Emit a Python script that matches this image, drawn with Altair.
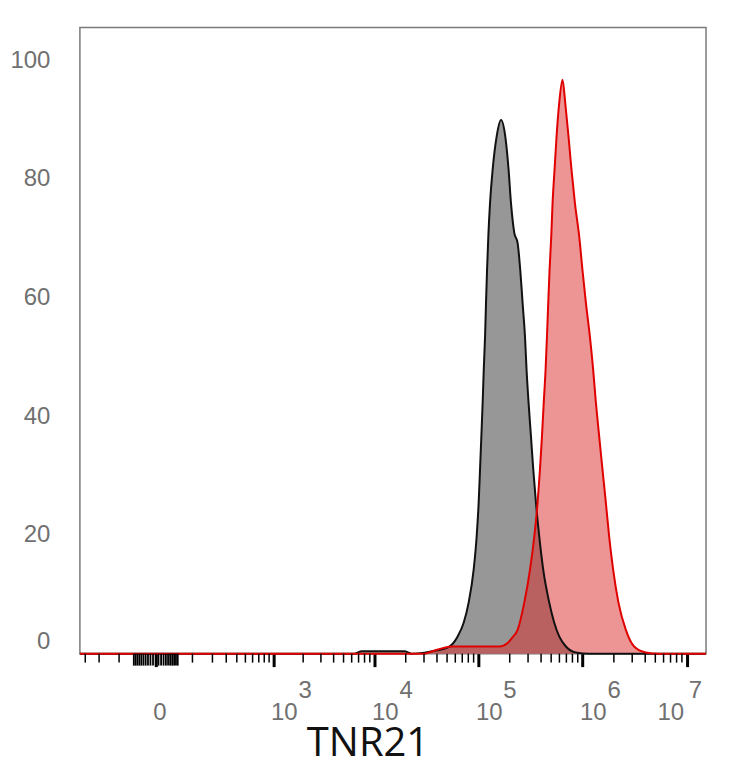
import altair as alt
import pandas as pd

# TNR21 fluorescence intensity and % of max
iso_x = [-348, 6400, 7500, 19400, 22700, 30300, 36100, 52600, 63200, 72200,
         80600, 90000, 96200, 100600, 103700, 106800, 109900, 112600, 115900,
         118400, 121100, 124600, 129400, 137000, 149700, 165000, 181400,
         195100, 205700, 221300, 238000, 252600, 265800, 280300, 290300,
         303400, 319900, 336700, 357300, 384300, 419800, 479400, 535300,
         597500, 693000, 864300, 1159200, 15340000]
iso_y = [0, 0, 0.4, 0.4, 0, 0.17, 0.4, 1.2, 2.9, 5.2,
         8.6, 14.1, 19.7, 25.4, 31.0, 36.6, 42.3, 47.8, 53.4,
         59.1, 64.6, 70.3, 75.9, 81.5, 87.1, 89.9, 87.1,
         81.5, 75.9, 70.9, 69.2, 64.6, 59.1, 53.4, 47.8,
         42.3, 36.6, 31.0, 25.4, 19.7, 14.1, 8.6, 5.2,
         2.9, 1.2, 0.2, 0, 0]

tnr_x = [-348, 30300, 36100, 47100, 56200, 158900, 190900, 211700, 238000,
         276000, 313000, 344100, 370200, 390300, 408000, 424400, 441800,
         455600, 468800, 482500, 501000, 515600, 538700, 563100, 597500,
         642800, 682400, 734100, 784200, 845400, 929500, 999700, 1077800,
         1177400, 1266000, 1344000, 1445700, 1555300, 1676200, 1802700,
         1969400, 2213500, 2606700, 3131100, 4053100, 5435100, 15340000]
tnr_y = [0, 0, 0.4, 1.0, 1.2, 1.2, 1.8, 2.7, 4.0,
         8.6, 14.1, 19.7, 25.4, 31.0, 36.6, 42.3, 47.8,
         53.4, 59.1, 64.6, 70.3, 75.9, 81.5, 87.1, 92.8,
         96.7, 92.8, 87.1, 81.5, 75.9, 70.3, 64.6, 59.1,
         53.4, 47.8, 42.3, 36.6, 31.0, 25.4, 19.7,
         14.1, 8.6, 4.0, 1.2, 0.2, 0, 0]

major_ticks = [0, 1000, 10000, 100000, 1000000, 10000000]
exp_values = [1000, 10000, 100000, 1000000]
exp_labels = ["3", "4", "5", "6"]
last_exp_value = [10000000]
last_exp_label = ["7"]
minor_ticks = [-300, -200, -100,
               100, 200, 300, 400, 500, 600, 700, 800, 900,
               2000, 3000, 4000, 5000, 6000, 7000, 8000, 9000,
               20000, 30000, 40000, 50000, 60000, 70000, 80000, 90000,
               200000, 300000, 400000, 500000, 600000, 700000, 800000, 900000,
               2000000, 3000000, 4000000, 5000000, 6000000, 7000000, 8000000, 9000000]
zero_ticks = [-50, -45, -40, -35, -30, -25, -20, -15, -10, -5, 0,
              5, 10, 15, 20, 25, 30, 35, 40, 45, 50]
y_ticks = [0, 20, 40, 60, 80, 100]

W, H = 627, 627
LABEL_FONT = "Liberation Sans"
LABEL_COLOR = "#707070"

iso = pd.DataFrame({"fl": iso_x, "pct": iso_y})
tnr = pd.DataFrame({"fl": tnr_x, "pct": tnr_y})
minor_df = pd.DataFrame({"fl": minor_ticks})
zero_df = pd.DataFrame({"fl": zero_ticks})
exp_df = pd.DataFrame({"fl": exp_values, "e": exp_labels})
exp7_df = pd.DataFrame({"fl": last_exp_value, "e": last_exp_label})

xscale = alt.Scale(type="symlog", constant=80, domain=[-348, 15340000], nice=False, zero=False)
yscale = alt.Scale(domain=[0, 105.5], nice=False, zero=False)

x_axis = alt.Axis(
    values=major_ticks,
    labelExpr="datum.value == 0 ? '0' : '10'",
    labelAlign={"condition": {"test": "datum.value >= 10000000", "value": "right"}, "value": "left"},
    labelBaseline="alphabetic",
    labelPadding=53,
    labelOffset=-3,
    labelFontSize=24,
    labelFont=LABEL_FONT,
    labelColor=LABEL_COLOR,
    labelFlush=False,
    labelOverlap=False,
    tickSize=13,
    tickWidth=3,
    tickColor="black",
    domain=False,
    grid=False,
    title="TNR21",
    titleX=288,
    titleY=102,
    titleAlign="center",
    titleBaseline="alphabetic",
    titleFont="Open Sans",
    titleFontSize=40,
    titleFontWeight="normal",
    titleColor="#111111",
)
y_axis = alt.Axis(
    values=y_ticks,
    ticks=False,
    domain=False,
    grid=False,
    labelFontSize=24,
    labelFont=LABEL_FONT,
    labelColor=LABEL_COLOR,
    labelPadding=30,
    labelFlush=True,
    title=None,
)

X = alt.X("fl:Q", scale=xscale, axis=x_axis)
Y = alt.Y("pct:Q", scale=yscale, axis=y_axis)

iso_area = alt.Chart(iso).mark_area(color="#979797", opacity=1, interpolate="monotone").encode(x=X, y=Y)
tnr_area = alt.Chart(tnr).mark_area(color="#dc2a2a", opacity=0.5, interpolate="monotone").encode(x=X, y=Y)
iso_line = alt.Chart(iso).mark_line(color="#111111", strokeWidth=2, interpolate="monotone").encode(x=X, y=Y)
tnr_line = alt.Chart(tnr).mark_line(color="#e00000", strokeWidth=2, interpolate="monotone").encode(x=X, y=Y)
minor = alt.Chart(minor_df).mark_rule(color="black", strokeWidth=1.5).encode(
    x=X, y=alt.value(H), y2=alt.value(H + 9),
)
zero_blob = alt.Chart(zero_df).mark_rule(color="black", strokeWidth=1.8).encode(
    x=X, y=alt.value(H), y2=alt.value(H + 12),
)
exps = alt.Chart(exp_df).mark_text(
    align="left", baseline="alphabetic", dx=25, fontSize=24, font=LABEL_FONT, color=LABEL_COLOR
).encode(x=X, y=alt.value(H + 44), text="e:N")
exp7 = alt.Chart(exp7_df).mark_text(
    align="left", baseline="alphabetic", dx=2, fontSize=24, font=LABEL_FONT, color=LABEL_COLOR
).encode(x=X, y=alt.value(H + 44), text="e:N")

chart = alt.layer(
    iso_area, tnr_area, iso_line, tnr_line, minor, zero_blob, exps, exp7
).properties(
    width=W,
    height=H,
    background="white",
    autosize=alt.AutoSizeParams(type="none"),
    padding={"left": 72, "top": 19, "right": 20, "bottom": 112},
).configure_view(
    stroke="#7a7a7a",
    strokeWidth=1.5,
)

chart.save("out.html", embed_options={"renderer": "svg", "actions": False})
